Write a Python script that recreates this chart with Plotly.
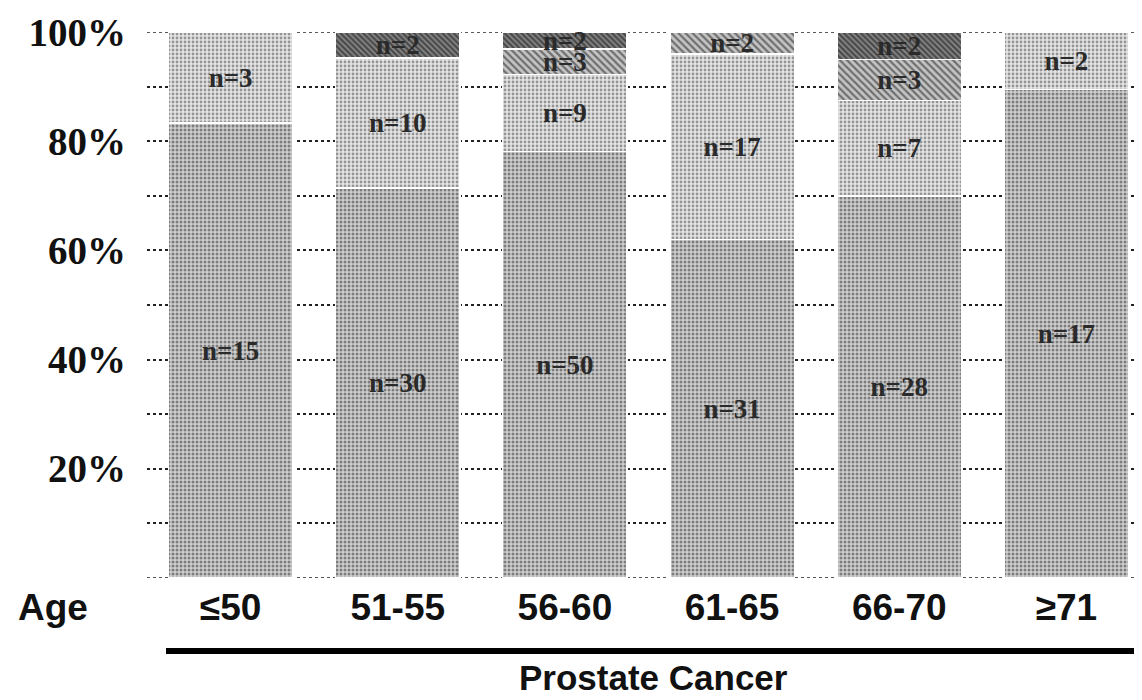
import plotly.graph_objects as go

categories = ["≤50", "51-55", "56-60", "61-65", "66-70", "≥71"]
seg1 = [15, 30, 50, 31, 28, 17]
seg2 = [3, 10, 9, 17, 7, 2]
seg3 = [None, None, 3, 2, 3, None]
seg4 = [None, 2, 2, None, 2, None]
ytick_vals = [0, 0.2, 0.4, 0.6, 0.8, 1.0]
ytick_text = ["", "20%", "40%", "60%", "80%", "100%"]

W, H = 1142, 700
L, R, T, B = 139, 0, 24, 130
PW, PH = W - L - R, H - T - B


def px_x(px):
    return (px - L) / PW


def px_y(py):
    return (H - B - py) / PH


styles = [
    dict(shape=".", fgcolor="#2a2a2a", bgcolor="#cfcfcf", size=4, solidity=0.45),
    dict(shape=".", fgcolor="#444444", bgcolor="#e4e4e4", size=4, solidity=0.38),
    dict(shape="\\", fgcolor="#1a1a1a", bgcolor="#c4c4c4", size=5, solidity=0.45),
    dict(shape="\\", fgcolor="#0a0a0a", bgcolor="#8a8a8a", size=4, solidity=0.6),
]

fig = go.Figure()
for seg, st in zip([seg1, seg2, seg3, seg4], styles):
    fig.add_trace(go.Bar(
        x=categories,
        y=seg,
        text=[f"n={v}" if v else "" for v in seg],
        textposition="inside",
        insidetextanchor="middle",
        textangle=0,
        textfont=dict(family="Liberation Serif", size=27, color="#2a2a2a", weight="bold"),
        marker=dict(color=st["bgcolor"], pattern=st, line=dict(color="white", width=1.5)),
        showlegend=False,
        hoverinfo="skip",
    ))

fig.update_layout(
    width=W, height=H,
    margin=dict(l=L, r=R, t=T, b=B),
    barmode="stack",
    barnorm="fraction",
    bargap=0.255,
    plot_bgcolor="white",
    paper_bgcolor="white",
    uniformtext=dict(mode="show", minsize=27),
    xaxis=dict(
        range=[-0.5, 5.5],
        showgrid=False, zeroline=False, showline=False, ticks="",
        tickfont=dict(family="Liberation Sans", size=37, color="#111", weight="bold"),
        ticklabelstandoff=4,
    ),
    yaxis=dict(
        range=[0, 1],
        tickvals=ytick_vals, ticktext=ytick_text,
        showgrid=True, gridcolor="#222", gridwidth=1.5, griddash="dot",
        minor=dict(dtick=0.1, tick0=0, showgrid=True, gridcolor="#222", gridwidth=1.5, griddash="dot"),
        zeroline=False, showline=False, ticks="",
        tickfont=dict(family="Liberation Serif", size=39, color="#111", weight="bold"),
        ticklabelstandoff=20,
    ),
    font=dict(family="Liberation Sans"),
)

for yv in [0, 1]:
    fig.add_shape(
        type="line", xref="paper", yref="y", layer="below",
        x0=0, x1=1, y0=yv, y1=yv,
        line=dict(color="#222", width=1.5, dash="dot"),
    )

fig.add_annotation(
    text="<b>Age</b>", xref="paper", yref="paper",
    x=px_x(8), y=px_y(599), xanchor="left", yanchor="middle",
    showarrow=False, font=dict(family="Liberation Sans", size=37, color="#111"),
)
fig.add_annotation(
    text="<b>Prostate Cancer</b>", xref="paper", yref="paper",
    x=px_x(645), y=px_y(669), xanchor="center", yanchor="middle",
    showarrow=False, font=dict(family="Liberation Sans", size=35, color="#111"),
)
fig.add_shape(
    type="line", xref="paper", yref="paper",
    x0=px_x(158), x1=px_x(1130), y0=px_y(643), y1=px_y(643),
    line=dict(color="black", width=6),
)

fig.write_html("out.html")
